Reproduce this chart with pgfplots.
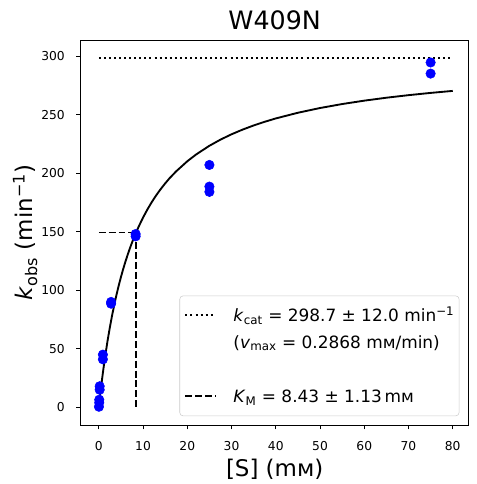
\documentclass[border=0pt]{standalone}
\usepackage{fontspec}
\setmainfont{DejaVu Sans}
\usepackage{pgfplots}
\pgfplotsset{compat=1.18}
\begin{document}
\begin{tikzpicture}
\begin{axis}[
  name=ax,
  scale only axis, width=291pt, height=288.75pt,
  xmin=-4.1, xmax=83.6, ymin=-15.1, ymax=313.7,
  xtick={0,10,...,80}, ytick={0,50,...,300},
  tick pos=left, tick align=outside, major tick length=3.2pt,
  tick style={black, line width=0.75pt},
  axis line style={line width=0.75pt},
  /pgf/number format/assume math mode=true,
  ticklabel style={font=\fontsize{9.2}{11}\selectfont, inner sep=0pt},
  xticklabel style={anchor=north, yshift=-8.8pt},
  yticklabel style={anchor=east, xshift=-8.55pt},
  title={W409N},
  title style={font=\fontsize{19}{22}\selectfont, at={(axis description cs:0.5,1)}, anchor=base, yshift=2pt, inner sep=0pt},
  xlabel={[S] (mм)},
  xlabel style={font=\fontsize{17.2}{20}\selectfont, at={(axis description cs:0.5,0)}, anchor=base, yshift=-38.25pt, inner sep=0pt},
  ylabel={\textit{k}\textsubscript{obs} (min\textsuperscript{−1})},
  ylabel style={font=\fontsize{17.2}{20}\selectfont, at={(axis description cs:-0.123,0.5)}, anchor=base, inner sep=0pt},
  legend cell align=left,
  legend style={at={(axis description cs:0.976,0.023)}, anchor=south east,
    font=\fontsize{12.7}{15}\selectfont, draw=black!20, rounded corners=2.5pt,
    fill=white, fill opacity=0.8, text opacity=1, draw opacity=1,
    inner xsep=3.5pt, inner ysep=4.5pt, row sep=0pt, column sep=0pt,
    nodes={inner sep=0pt, text height=14.75pt, text depth=5.5pt}},
  legend image code/.code={\draw[#1] (0pt,0pt) -- (22.5pt,0pt);},
]
\addplot[black, line width=1.4pt, forget plot] coordinates {
(0,0) (0.25,8.60) (0.5,16.72) (0.75,24.40) (1,31.68) (1.5,45.12) (2,57.28) (2.5,68.32) (3,78.40) (3.5,87.63)
(4,96.12) (4.5,103.96) (5,111.21) (5.5,117.95) (6,124.20) (6.5,130.04) (7,135.51) (7.5,140.63) (8,145.44) (9,154.23) (10,162.07) (11,169.08) (12,175.45)
(13,181.21) (14,186.43) (15,191.23) (16,195.68) (17.5,201.59) (19,206.71) (20,210.13) (22,215.95) (25,223.38) (27.5,228.62) (30,233.18) (32.5,237.18) (35,240.72) (37.5,243.87) (40,246.71)
(45,251.57) (50,255.61) (55,259.00) (60,261.90) (65,264.41) (70,266.59) (75,268.52) (80,270.23)
};
\addplot[only marks, mark=*, mark size=3.55pt, color=blue, mark options={draw=blue, fill=blue}, forget plot] coordinates {
(0.03,0.5) (0.1,4) (0.1,6.5) (0.2,15) (0.2,18) (0.926,41) (0.926,45) (2.78,88.5) (2.78,90)
(8.33,146) (8.33,148) (25,184) (25,188.5) (25,207) (75,285) (75,294.5)
};
\addplot[black, line width=1.5pt, dash pattern=on 1.5pt off 2.3pt, forget plot] coordinates {(0,298.7) (80,298.7)};
\addplot[black, line width=1.4pt, dash pattern=on 5.2pt off 2.2pt, forget plot] coordinates {(0,149.35) (8.43,149.35)};
\addplot[black, line width=1.4pt, dash pattern=on 5.2pt off 2.2pt, forget plot] coordinates {(8.43,149.35) (8.43,0)};
\addlegendimage{black, line width=1.5pt, dash pattern=on 1.5pt off 2.3pt}
\addlegendentry{\hspace{12.75pt}\textit{k}\textsubscript{cat} = 298.7 ± 12.0 min\textsuperscript{−1}}
\addlegendimage{empty legend}
\addlegendentry{\hspace{12.75pt}(\textit{v}\textsubscript{max} = 0.2868 mм/min)}
\addlegendimage{empty legend}
\addlegendentry{\strut}
\addlegendimage{black, line width=1.4pt, dash pattern=on 5.2pt off 2.2pt}
\addlegendentry{\hspace{12.75pt}\textit{K}\textsubscript{M} = 8.43 ± 1.13\,mм}
\end{axis}
\path ([shift={(-60.5pt,-44.25pt)}]ax.south west) rectangle ([shift={(6.2pt,30pt)}]ax.north east);
\end{tikzpicture}
\end{document}
